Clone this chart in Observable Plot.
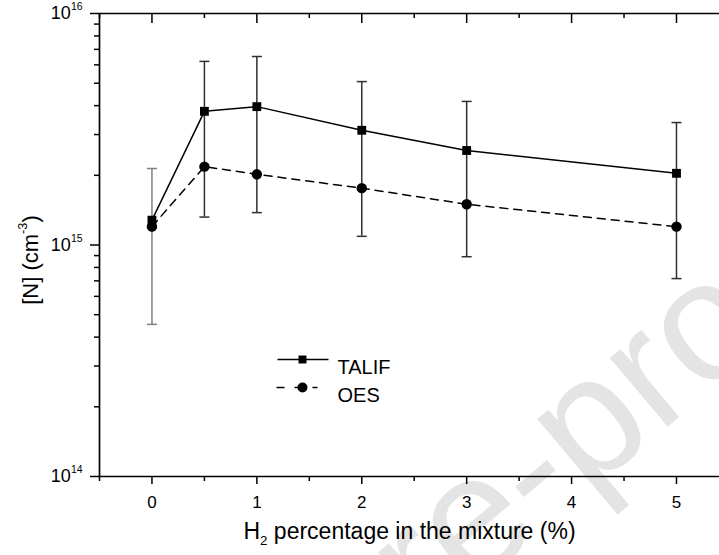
<!DOCTYPE html>
<html><head><meta charset="utf-8">
<script src="https://cdn.jsdelivr.net/npm/d3@7"></script>
<script src="https://cdn.jsdelivr.net/npm/@observablehq/plot@0.6"></script>
<style>
body{margin:0;background:#fff}
#chart{width:719px;height:555px;overflow:hidden}
</style>
</head><body><div id="chart"></div>
<script>
// ---- data ----
const h2Percent = [0, 0.5, 1, 2, 3, 5];
const talif = [1.28e15, 3.78e15, 3.96e15, 3.13e15, 2.56e15, 2.04e15];
const talifUpper = [2.14e15, 6.21e15, 6.52e15, 5.08e15, 4.17e15, 3.38e15];
const oes = [1.20e15, 2.18e15, 2.02e15, 1.76e15, 1.50e15, 1.20e15];
const oesLower = [4.54e14, 1.32e15, 1.38e15, 1.09e15, 8.9e14, 7.16e14];
const seriesNames = ["TALIF", "OES"];
const xTicks = [0, 1, 2, 3, 4, 5];
const xTickLabels = ["0", "1", "2", "3", "4", "5"];
const xMinorTicks = [-0.5, 0.5, 1.5, 2.5, 3.5, 4.5];
const yTicks = [1e14, 1e15, 1e16];
const yTickLabels = ["10^{14}", "10^{15}", "10^{16}"];
const yMinorTicks = [2e14, 3e14, 4e14, 5e14, 6e14, 7e14, 8e14, 9e14,
                     2e15, 3e15, 4e15, 5e15, 6e15, 7e15, 8e15, 9e15];
const xLabel = "H_{2} percentage in the mixture (%)";
const yLabel = "[N] (cm^{-3})";
const watermarkText = "Journal Pre-proof";

// ---- tables built from the arrays ----
const talifRows = h2Percent.map((x, i) => ({x, y: talif[i]}));
const oesRows = h2Percent.map((x, i) => ({x, y: oes[i]}));
const errRows = h2Percent.map((x, i) => ({x, low: oesLower[i], high: talifUpper[i]}));
const capRows = errRows.flatMap(d => [{x: d.x, y: d.low}, {x: d.x, y: d.high}]);

const W = 719, H = 555, ML = 99, MT = 13, MB = 79, MR = 0;
const FH = H - MT - MB;
const barColor = d => d.x === 0 ? "#808080" : "#303030";
const cap = {draw(ctx) { ctx.moveTo(-5, 0); ctx.lineTo(5, 0); }};
const segTalif = {draw(ctx) { ctx.moveTo(-25, 0); ctx.lineTo(26, 0); }};
const segOes = {draw(ctx) { ctx.moveTo(-26, 0); ctx.lineTo(15, 0); }};
const FONT = "'Liberation Sans', Arial, sans-serif";

const plot = Plot.plot({
  width: W, height: H,
  marginLeft: ML, marginTop: MT, marginBottom: MB, marginRight: MR,
  style: {fontFamily: FONT, fontSize: "17px", color: "#000", background: "transparent"},
  x: {domain: [-0.5, 5.41]},
  y: {type: "log", domain: [1e14, 1e16]},
  marks: [
    // error bars
    Plot.ruleX(errRows, {x: "x", y1: "low", y2: "high", stroke: barColor, strokeWidth: 1.5}),
    Plot.dot(capRows, {x: "x", y: "y", symbol: cap, r: 5, stroke: barColor, strokeWidth: 1.5}),
    // series
    Plot.line(talifRows, {x: "x", y: "y", stroke: "#000", strokeWidth: 1.5}),
    Plot.line(oesRows, {x: "x", y: "y", stroke: "#000", strokeWidth: 1.5, strokeDasharray: "8,6"}),
    Plot.dot(talifRows, {x: "x", y: "y", symbol: "square", r: 5, fill: "#000"}),
    Plot.dot(oesRows, {x: "x", y: "y", symbol: "circle", r: 5.2, fill: "#000"}),
    // frame lines
    Plot.ruleY([1e14], {strokeWidth: 1.7}),
    Plot.ruleY([1e16], {strokeWidth: 1.7}),
    Plot.ruleX([-0.5], {strokeWidth: 1.7}),
    // x axis (bottom)
    Plot.axisX({ticks: xTicks, tickSize: 8, tickPadding: 11, fontSize: 17, label: null, strokeWidth: 1.5,
                tickFormat: d => xTickLabels[xTicks.indexOf(d)]}),
    Plot.axisX({ticks: xMinorTicks, tickSize: 5, tickFormat: () => "", label: null, strokeWidth: 1.5}),
    // top mirrored ticks (inward)
    Plot.tickX(xTicks, {x: d => d, insetBottom: FH - 10, strokeWidth: 1.5}),
    Plot.tickX(xMinorTicks, {x: d => d, insetBottom: FH - 5, strokeWidth: 1.5}),
    // y axis
    Plot.axisY({ticks: yTicks, tickSize: 9, tickFormat: () => "", label: null, strokeWidth: 1.5}),
    Plot.axisY({ticks: yMinorTicks, tickSize: 5, tickFormat: () => "", label: null, strokeWidth: 1.5}),
    Plot.text(yTicks, {y: d => d, frameAnchor: "left", dx: -17, textAnchor: "end", text: (d, i) => yTickLabels[i], fontSize: 18}),
    // axis titles
    Plot.text([xLabel], {frameAnchor: "bottom", dy: 62, fontSize: 23}),
    Plot.text([yLabel], {frameAnchor: "left", dx: -69, dy: 15, rotate: -90, fontSize: 22}),
    // legend
    Plot.dot([seriesNames[0]], {frameAnchor: "top-left", dx: 302 - ML, dy: 359 - MT, symbol: segTalif, r: 5, stroke: "#000", strokeWidth: 1.5}),
    Plot.dot([seriesNames[0]], {frameAnchor: "top-left", dx: 302 - ML, dy: 359 - MT, symbol: "square", r: 4.5, fill: "#000"}),
    Plot.dot([seriesNames[1]], {frameAnchor: "top-left", dx: 302 - ML, dy: 387 - MT, symbol: segOes, r: 5, stroke: "#000", strokeWidth: 1.5, strokeDasharray: "8,10"}),
    Plot.dot([seriesNames[1]], {frameAnchor: "top-left", dx: 302 - ML, dy: 387 - MT, symbol: "circle", r: 5, fill: "#000"}),
    Plot.text([seriesNames[0]], {frameAnchor: "top-left", dx: 337 - ML, dy: 359 - MT, textAnchor: "start", fontSize: 20}),
    Plot.text([seriesNames[1]], {frameAnchor: "top-left", dx: 337 - ML, dy: 387 - MT, textAnchor: "start", fontSize: 20})
  ]
});

document.getElementById("chart").appendChild(plot);

// rich text: ^{..} superscript, _{..} subscript (run once attached, so sizes are known)
function richify(svg) {
  d3.select(svg).selectAll("text").each(function() {
    const el = this;
    const s = el.textContent;
    if (!/[\^_]\{/.test(s)) return;
    const fs = parseFloat(getComputedStyle(el).fontSize) || 16;
    const anchor = getComputedStyle(el).textAnchor;
    const parts = s.split(/([\^_]\{[^}]*\})/).filter(p => p.length);
    el.textContent = "";
    el.setAttribute("text-anchor", anchor === "end" ? "end" : "middle");
    const sel = d3.select(el);
    let pending = 0;
    for (const p of parts) {
      const m = p.match(/^([\^_])\{([^}]*)\}$/);
      const t = sel.append("tspan");
      if (m) {
        const sh = m[1] === "^" ? -0.5 * fs : 0.3 * fs;
        t.attr("dy", sh - pending).style("font-size", (0.58 * fs) + "px").text(m[2]);
        pending = sh;
      } else {
        if (pending) t.attr("dy", -pending);
        pending = 0;
        t.text(p);
      }
    }
  });
}
richify(plot);

// faint watermark behind everything
const F = 170;
const wm = d3.select(plot).insert("g", ":first-child")
  .attr("transform", "translate(535,478) rotate(-40)");
wm.append("text")
  .attr("x", -1.417 * F).attr("y", 0.27 * F)
  .attr("text-anchor", "middle")
  .attr("fill", "#e4e4e4")
  .style("font-size", F + "px")
  .style("font-family", FONT)
  .text(watermarkText);
</script>
</body></html>
